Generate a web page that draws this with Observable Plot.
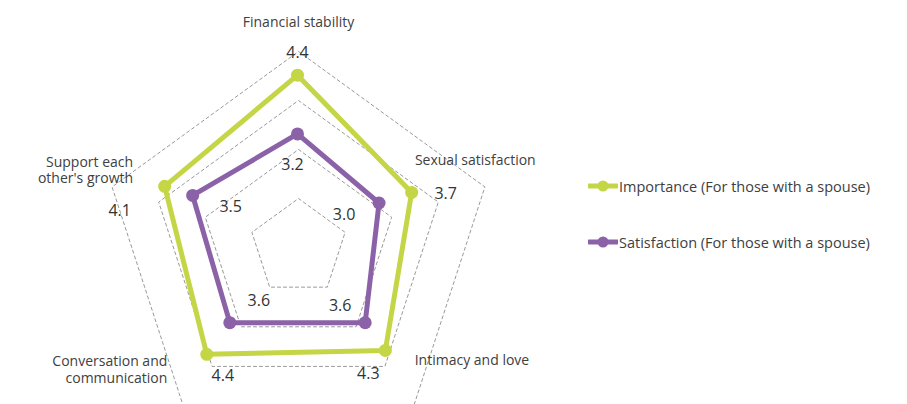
<!DOCTYPE html>
<html>
<head>
<meta charset="utf-8">
<script src="https://cdn.jsdelivr.net/npm/d3@7"></script>
<script src="https://cdn.jsdelivr.net/npm/@observablehq/plot@0.6"></script>
<style>
  body { margin: 0; background: #fff; font-family: "Open Sans", sans-serif; }
  #wrap { position: relative; width: 907px; height: 404px; overflow: hidden; }
  #legend { position: absolute; left: 588px; top: 0; font-size: 14.5px; color: #404040; }
  .item { position: absolute; left: 0; display: flex; align-items: center; white-space: nowrap; height: 20px; }
  .item svg { margin-right: 1px; }
</style>
</head>
<body>
<div id="wrap"><div id="chart"></div><div id="legend"></div></div>
<script>
// ---- data ----
const axes = ["Financial stability", "Sexual satisfaction", "Intimacy and love", "Conversation and\ncommunication", "Support each\nother's growth"];
const importance = [4.4, 3.7, 4.3, 4.4, 4.1];
const satisfaction = [3.2, 3.0, 3.6, 3.6, 3.5];
const seriesNames = ["Importance (For those with a spouse)", "Satisfaction (For those with a spouse)"];
const ringSteps = [1, 2, 3, 4];

// ---- layout / style ----
const seriesColors = ["#c4d646", "#8b62a8"];
const W = 907, H = 404;
const K = 49;              // px per radial unit
const CX = 297, CY = 229;  // centre of the data polygon (px)
const RMIN = 1.25;         // value at the centre
const GRID_DX = 1 / K, GRID_DY = -18 / K; // the dashed grid sits slightly lower
const valueOffsets = [ // px offsets of value labels from their point, per axis
  [[0, -22], [34, 1], [-17, 23], [16, 22], [-45, 25]],
  [[-5, 31], [-35, 12], [-25, -17], [29, -22], [38, 11]]
];
const axisLabelLayout = [ // offset from outer grid vertex (px) and anchor
  [0, -30, "middle"], [-70, -27, "start"], [1, -46, "start"], [-16, -37, "end"], [21, -17, "end"]
];

const n = axes.length;
const ang = i => 2 * Math.PI * i / n;
const polar = (r, i) => [r * Math.sin(ang(i)), r * Math.cos(ang(i))];

const seriesValues = [importance, satisfaction];
const points = [];
seriesValues.forEach((vals, s) => vals.forEach((v, i) => {
  const [x, y] = polar(v - RMIN, i);
  points.push({series: seriesNames[s], s, i, value: v, x, y,
    lx: x + valueOffsets[s][i][0] / K, ly: y - valueOffsets[s][i][1] / K});
}));

const grid = [];
ringSteps.forEach(r => axes.forEach((a, i) => {
  const [x, y] = polar(r, i);
  grid.push({ring: r, x: x + GRID_DX, y: y + GRID_DY});
}));

const outer = ringSteps[ringSteps.length - 1];
const axisLabels = axes.map((a, i) => {
  const [x, y] = polar(outer, i);
  const [dx, dy, anchor] = axisLabelLayout[i];
  return {label: a, anchor, x: x + GRID_DX + dx / K, y: y + GRID_DY - dy / K};
});

const textMark = anchor => Plot.text(axisLabels.filter(d => d.anchor === anchor), {
  x: "x", y: "y", text: "label", textAnchor: anchor, fontSize: 14, lineHeight: 1.18, fill: "#404040"
});

const chart = Plot.plot({
  width: W, height: H,
  marginTop: 0, marginRight: 0, marginBottom: 0, marginLeft: 0,
  style: {fontFamily: "'Open Sans', sans-serif", background: "transparent", overflow: "hidden"},
  x: {domain: [-CX / K, (W - CX) / K], range: [0, W], axis: null},
  y: {domain: [(CY - H) / K, CY / K], range: [H, 0], axis: null},
  color: {domain: seriesNames, range: seriesColors},
  marks: [
    Plot.line(grid, {x: "x", y: "y", z: "ring", curve: "linear-closed", stroke: "#999", strokeWidth: 1, strokeDasharray: "3,3"}),
    Plot.line(points, {x: "x", y: "y", z: "series", stroke: "series", curve: "linear-closed", strokeWidth: 5, strokeLinejoin: "round"}),
    Plot.dot(points, {x: "x", y: "y", fill: "series", r: 6.5}),
    Plot.text(points, {x: "lx", y: "ly", text: d => d.value.toFixed(1), fontSize: 16, fill: "#333"}),
    textMark("middle"), textMark("start"), textMark("end")
  ]
});
document.getElementById("chart").append(chart);

// legend
const legend = document.getElementById("legend");
const legendTops = [176, 232];
seriesNames.forEach((name, s) => {
  const item = document.createElement("div");
  item.className = "item";
  item.style.top = legendTops[s] + "px";
  item.innerHTML = `<svg width="30" height="12"><line x1="1" x2="29" y1="6" y2="6" stroke="${seriesColors[s]}" stroke-width="5" stroke-linecap="round"/><circle cx="15" cy="6" r="5.5" fill="${seriesColors[s]}"/></svg><span>${name}</span>`;
  legend.append(item);
});
</script>
</body>
</html>
